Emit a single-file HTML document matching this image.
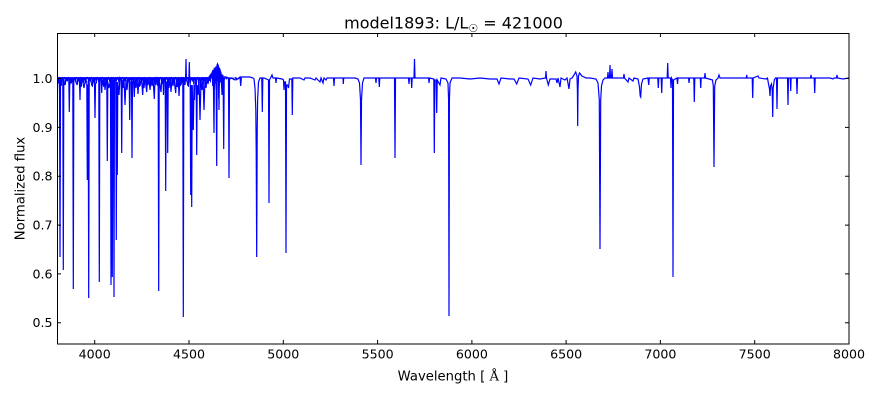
<!DOCTYPE html>
<html><head><meta charset="utf-8"><style>
html,body{margin:0;padding:0;background:#fff;}
svg{display:block;}
text{font-family:"DejaVu Sans","Liberation Sans",sans-serif;fill:#000;}
</style></head><body>
<svg width="880" height="400" viewBox="0 0 880 400" xmlns="http://www.w3.org/2000/svg">
<rect x="0" y="0" width="880" height="400" fill="#fff"/>
<defs><clipPath id="pa"><rect x="57" y="33" width="792" height="311"/></clipPath></defs>
<g clip-path="url(#pa)">
<polyline fill="none" stroke="#0000ff" stroke-width="0.8" vector-effect="non-scaling-stroke" transform="translate(0,38.5) scale(1,0.5)" points="57,77 57.5,84 58,77 58.5,90 59,77 59.5,82 60,77 60.5,87 61,77 61.5,95 62,77 62.5,83 63,77 63.5,88 64,77 64.5,81 65,77 65.5,92 66,77 66.5,85 67,77 67.5,86 68,77 68.5,80 69,77 69.5,97 70,77 70.5,84 71,77 71.5,89 72,77 72.5,87 73,77 73.5,95 74,77 74.5,83 75,77 75.5,88 76,77 76.5,81 77,77 77.5,92 78,77 78.5,85 79,77 79.5,86 80,77 80.5,80 81,77 81.5,97 82,77 82.5,84 83,77 83.5,89 84,77 84.5,84 85,77 85.5,90 86,77 86.5,82 87,77 87.5,81 88,77 88.5,92 89,77 89.5,85 90,77 90.5,86 91,77 91.5,80 92,77 92.5,97 93,77 93.5,84 94,77 94.5,89 95,77 95.5,84 96,77 96.5,90 97,77 97.5,82 98,77 98.5,87 99,77 99.5,95 100,77 100.5,83 101,77 101.5,88 102,77 102.5,80 103,77 103.5,97 104,77 104.5,84 105,77 105.5,89 106,77 106.5,84 107,77 107.5,90 108,77 108.5,82 109,77 109.5,87 110,77 110.5,95 111,77 111.5,83 112,77 112.5,88 113,77 113.5,81 114,77 114.5,92 115,77 115.5,85 116,77 116.5,86 117,77 117.5,82 118,77 118.5,87 119,77 119.5,95 120,77 120.5,83 121,77 121.5,88 122,77 122.5,81 123,77 123.5,92 124,77 124.5,85 125,77 125.5,86 126,77 126.5,80 127,77 127.5,97 128,77 128.5,84 129,77 129.5,89 130,77 130.5,84 131,77 131.5,90 132,77 132.5,83 133,77 133.5,88 134,77 134.5,81 135,77 135.5,92 136,77 136.5,85 137,77 137.5,86 138,77 138.5,80 139,77 139.5,97 140,77 140.5,84 141,77 141.5,89 142,77 142.5,84 143,77 143.5,90 144,77 144.5,82 145,77 145.5,87 146,77 146.5,95 147,77 147.5,85 148,77 148.5,86 149,77 149.5,80 150,77 150.5,97 151,77 151.5,84 152,77 152.5,89 153,77 153.5,84 154,77 154.5,90 155,77 155.5,82 156,77 156.5,87 157,77 157.5,95 158,77 158.5,83 159,77 159.5,88 160,77 160.5,81 161,77 161.5,92 162,77 162.5,84 163,77 163.5,89 164,77 164.5,84 165,77 165.5,90 166,77 166.5,82 167,77 167.5,87 168,77 168.5,95 169,77 169.5,83 170,77 170.5,88 171,77 171.5,81 172,77 172.5,92 173,77 173.5,85 174,77 174.5,86 175,77 175.5,80 176,77 176.5,97 177,77 177.5,90 178,77 178.5,82 179,77 179.5,87 180,77 180.5,95 181,77 181.5,83 182,77 182.5,88 183,77 183.5,81 184,77 184.5,92 185,77 185.5,85 186,77 186.5,86 187,77 187.5,80 188,77 188.5,97 189,77 189.5,84 190,77 190.5,89 191,77 191.5,84 192,77 192.5,86 193,77 193.5,92 194,77 194.5,83 195,77 195.5,88 196,77 196.5,95 197,77 197.5,82 198,77 198.5,90 199,77 199.5,84 200,77 200.5,100 201,77 201.5,86 202,77 202.5,83 203,77 203.5,91 204,77 204.5,85 205,77 205.5,88 206,77 206.5,82 207,77 207.5,87 208,77 208.5,84 209,77 209.5,85 210,75 210.5,88 211,71 211.5,80 212,69 212.5,95 213,63 213.5,84 214,59 214.5,100 215,57 215.5,90 216,55 216.5,110 217,51 217.5,85 218,53 218.5,120 219,57 219.5,95 220,63 220.5,88 221,67 221.5,100 222,71 222.5,84 223,73 223.5,92 224,77 224.5,82 226,77 226.5,81 228,78 228.5,84 232,78 232.5,80 236,78 236.5,83 239,78"/>
<polyline fill="none" stroke="#0000ff" stroke-width="1.2" stroke-linejoin="miter" points="57,79 57.4,92 57.8,79 59.5,78 60,257 60.5,80 62.8,80 63.3,270 63.8,80 65,85 66.2,79 68.8,80 69.3,112 69.8,80 71,83 72.8,79 73.3,289 73.8,79 75.5,80 77,85 78.5,78 79.5,82 80,100 80.5,80 82,78 84,88 85.5,79 86.8,82 87.3,180 87.8,85 88.2,85 88.7,298 89.2,80 90.5,79 92,86 93.5,78 94.5,85 95,118 95.5,84 97,78 98.8,80 99.3,282 99.8,80 101.2,80 101.7,93 102.2,80 103,85 104,78 105,90 106,80 106.8,82 107.3,161 107.8,82 109,88 110.5,80 111,285 111.5,80 111.8,80 112.3,277 112.8,80 113.5,80 114,297 114.5,80 115.8,80 116.3,240 116.8,82 117.3,175 117.8,82 119,95 120,78 121.2,80 121.7,153 122.2,80 123,88 124,78 125,105 126,80 127,90 128,78 129.2,82 129.7,120 130.2,82 131.5,82 132,158 132.5,82 133.5,79 134.3,97 135,78 136,88 137,78 138,94 139,78 140,86 141.5,78 142.7,95 143.5,78 144,88 145,78 146.7,92 147.5,78 148,85 149,78 150,90 151,78 152,86 153,78 154.3,99 155,78 156,85 157,78 158.2,80 158.7,291 159.2,80 161,92 161.8,78 162,84 163,79 163.5,95 164,79 165.2,82 165.7,191 166.2,82 167.2,82 167.7,153 168.2,82 169,88 170,78 171,92 172,78 173,86 174,78 175.7,93 176.5,78 177.5,87 178.3,78 179,96 180,78 181,85 182,78 182.8,79 183.3,317 183.8,79 185,85 185.6,78 186,59 186.4,78 188,86 188.9,78 189.3,62 189.7,78 190.2,85 190.7,195 191.2,85 191.7,207 192.2,85 193.3,130 194,85 194.5,100 195,80 196.2,85 196.7,155 197.2,85 198,95 199,78 200,120 201,80 202,90 203,78 204,110 205,78 206,88 207,78 208,84 209,77 211,74 212,73 213,70 213.5,90 214,133 214.5,70 215,68 216.2,90 216.7,166 217.2,66 217.5,64 218.5,66 219,110 219.5,68 220,70 221,73 222,95 222.8,75 223.2,85 223.7,149 224.2,77 226,77 228.5,78 229,178 229.5,78 231,78 235,80 236,78 238,79 240,77 240.7,86 241.4,77 250,77 253,78 254,79 255,88 255.8,110 256.2,150 256.7,257 257.2,130 257.6,100 258.5,82 260,78 261.8,78 262.3,112 262.8,78 264,78 268.5,80 269,203 269.5,80 270.5,78 272,75 273,78 275.5,78 276,83 276.5,78 282,79 283.5,80 284,90 284.5,82 285.5,82 286,253 286.5,85 287.5,85 288.5,88 289.5,79 291.8,79 292.3,115 292.8,78 300,78 304,80 305,78 310,78 315,80 316,78 320,82 321,78 323,83 324,78 326,80 327,78 333.5,78 334,86 334.5,78 343,78 343.3,84 343.7,78 355,78 358,79 359.5,83 360.5,100 361,165 361.5,100 362.5,83 364,78 375.5,78 376,83 376.5,78 378.8,78 379.3,87 379.8,78 394.5,78 395,158 395.5,78 408.5,78 409,84 409.5,78 411.2,78 411.7,88 412.2,78 414,78 414.5,59 415,78 420,78 428.5,78 429,83 429.5,78 433.8,79 434.3,153 434.8,80 436.2,80 436.7,113 437.2,80 440,85 441,78 446,79 448,83 448.6,100 449,316 449.4,100 450,83 452,78 460,78 470,79 480,78 490,79 497,79 499,84 501,78 510,79 514,79 516.7,84 519,78 528,79 530.7,85 533,78 540,79 545.5,78 546,71 546.5,78 548.3,85 550,79 556,79 557,83 558,78 560,87 561,78 565,80 567,78 569,89 570,79 572,78 574,75 575.7,72 577,76 577.4,90 577.7,126 578,90 578.5,76 579.5,73 582,76 586,78 590,78 596,79 598,83 599.3,100 600,249 600.7,100 601.5,86 603,80 605,78 607.5,78 608,72 608.5,78 609.5,78 610,65 610.5,78 611.5,78 612,69 612.5,78 616,78 620,78 623.5,78 624,74 624.5,78 628,82 629,78 633,81 634,78 638,79 639.5,87 640.2,96 640.7,97 641.5,84 643,79 648,78 648.7,85 649.3,78 657.8,78 658.3,88 658.8,78 661.2,78 661.7,93 662.2,78 667.2,78 667.7,63 668.2,78 670.5,78 671,88 671.5,78 672.5,80 673,277 673.5,80 677,78 677.5,84 678,78 688.5,78 689,83 689.5,78 693.8,78 694.3,102 694.8,78 700.3,78 700.7,88 701.2,78 704.5,78 705,73 705.5,78 712.5,80 713.3,86 714,167 714.7,86 716,80 718,78 719,75 720,78 735,78 746.3,78 746.7,75 747.1,78 752.2,78 752.7,98 753.2,78 758,76 759,78 766,79 767.5,78 768.5,84 769.5,89 770,96 770.5,86 771.5,84 772.2,90 772.7,117 773.2,88 774.3,80 775.5,78 776.5,78 777,109 777.5,78 787.5,78 788,105 788.5,78 790.3,78 790.7,91 791.1,78 796.5,78 797,94 797.5,78 805,78 810.5,78 811,75 811.5,78 814.2,78 814.7,93 815.2,78 830,78 833,79 834,78 836.5,78 837,75 837.5,78 843,79 849,78"/>
</g>
<rect x="57.5" y="33.5" width="791.5" height="310.5" fill="none" stroke="#000" stroke-width="1"/>
<g stroke="#000" stroke-width="1">
<path d="M94.7,344 v-4 M189,344 v-4 M283.3,344 v-4 M377.6,344 v-4 M471.9,344 v-4 M566.1,344 v-4 M660.4,344 v-4 M754.7,344 v-4
M94.7,33 v4 M189,33 v4 M283.3,33 v4 M377.6,33 v4 M471.9,33 v4 M566.1,33 v4 M660.4,33 v4 M754.7,33 v4
M57,78.5 h4 M57,127.4 h4 M57,176.2 h4 M57,225.1 h4 M57,273.9 h4 M57,322.8 h4
M849,78.5 h-4 M849,127.4 h-4 M849,176.2 h-4 M849,225.1 h-4 M849,273.9 h-4 M849,322.8 h-4"/>
</g>
<g font-size="12.6" text-anchor="middle">
<text x="94.7" y="358.5">4000</text>
<text x="189" y="358.5">4500</text>
<text x="283.3" y="358.5">5000</text>
<text x="377.6" y="358.5">5500</text>
<text x="471.9" y="358.5">6000</text>
<text x="566.1" y="358.5">6500</text>
<text x="660.4" y="358.5">7000</text>
<text x="754.7" y="358.5">7500</text>
<text x="849" y="358.5">8000</text>
</g>
<g font-size="12.6" text-anchor="end">
<text x="52.5" y="83">1.0</text>
<text x="52.5" y="131.8">0.9</text>
<text x="52.5" y="180.7">0.8</text>
<text x="52.5" y="229.5">0.7</text>
<text x="52.5" y="278.4">0.6</text>
<text x="52.5" y="327.2">0.5</text>
</g>
<text x="453" y="380.5" font-size="13.2" text-anchor="middle">Wavelength [ <tspan font-family="'DejaVu Serif','Liberation Serif',serif">Å</tspan> ]</text>
<text transform="translate(24.5,188.5) rotate(-90)" font-size="13.2" text-anchor="middle">Normalized flux</text>
<text x="453.5" y="28.3" font-size="16" text-anchor="middle">model1893: L/L<tspan font-size="11" dy="3.5">☉</tspan><tspan dy="-3.5"> = 421000</tspan></text>
</svg>
</body></html>
